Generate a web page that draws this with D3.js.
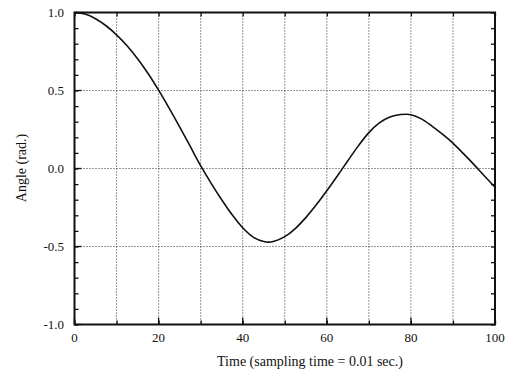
<!DOCTYPE html>
<html>
<head>
<meta charset="utf-8">
<script src="https://cdn.jsdelivr.net/npm/d3@7"></script>
<style>
  html, body { margin: 0; padding: 0; background: #fff; }
  svg { display: block; }
  text { font-family: "Liberation Serif", "Times New Roman", serif; fill: #111; }
</style>
</head>
<body>
<svg id="chart" width="512" height="376"></svg>
<script>
// Data
const timeSteps = [0, 2.5, 5, 7.5, 10, 12.5, 15, 17.5, 20, 22.5, 25, 27.5, 30, 32.5, 35, 37.5, 40, 42.5, 45, 46, 47.5, 50, 52.5, 55, 57.5, 60, 62.5, 65, 67.5, 70, 72.5, 75, 77.5, 79, 80, 82.5, 85, 87.5, 90, 92.5, 95, 97.5, 100];
const angleValues = [1.0, 0.99, 0.96, 0.915, 0.857, 0.787, 0.704, 0.609, 0.502, 0.387, 0.267, 0.143, 0.018, -0.095, -0.2, -0.297, -0.38, -0.44, -0.468, -0.472, -0.466, -0.437, -0.385, -0.315, -0.233, -0.143, -0.048, 0.05, 0.145, 0.23, 0.292, 0.33, 0.346, 0.348, 0.345, 0.318, 0.272, 0.22, 0.163, 0.095, 0.025, -0.048, -0.12];
const xTickLabels = [0, 20, 40, 60, 80, 100];
const yTickLabels = ["1.0", "0.5", "0.0", "-0.5", "-1.0"];
const yTickValues = [1.0, 0.5, 0.0, -0.5, -1.0];
const xGrid = [10, 20, 30, 40, 50, 60, 70, 80, 90];
const yGrid = [0.5, 0.0, -0.5];
const xTitle = "Time (sampling time = 0.01 sec.)";
const yTitle = "Angle (rad.)";

const svg = d3.select("#chart");
const L = 74.5, R = 495, T = 12.5, B = 324.5;
const x = d3.scaleLinear().domain([0, 100]).range([L, R]);
const y = d3.scaleLinear().domain([-1, 1]).range([B, T]);

// grid
const grid = svg.append("g").attr("stroke", "#333").attr("stroke-width", 1).attr("stroke-dasharray", "1,2");
grid.selectAll("line.vx").data(xGrid).join("line")
  .attr("x1", d => x(d)).attr("x2", d => x(d)).attr("y1", T).attr("y2", B);
grid.selectAll("line.hy").data(yGrid).join("line")
  .attr("x1", L).attr("x2", R).attr("y1", d => y(d)).attr("y2", d => y(d));

// axes with inward ticks
const yMinor = d3.range(-10, 11).map(d => d / 10);
const xMinor = d3.range(0, 101, 10);
const axL = svg.append("g").attr("transform", `translate(${L},0)`)
  .call(d3.axisRight(y).tickValues(yMinor).tickSize(4).tickFormat(""));
const axR = svg.append("g").attr("transform", `translate(${R},0)`)
  .call(d3.axisLeft(y).tickValues(yMinor).tickSize(4).tickFormat(""));
const axB = svg.append("g").attr("transform", `translate(0,${B})`)
  .call(d3.axisTop(x).tickValues(xMinor).tickSize(4).tickFormat(""));
const axT = svg.append("g").attr("transform", `translate(0,${T})`)
  .call(d3.axisBottom(x).tickValues(xMinor).tickSize(4).tickFormat(""));
[axL, axR, axB, axT].forEach(g => {
  g.select(".domain").remove();
  g.selectAll(".tick line").attr("stroke", "#111").attr("stroke-width", 1.3);
});
// major tick marks slightly longer
svg.append("g").selectAll("line").data(xTickLabels).join("line")
  .attr("x1", d => x(d)).attr("x2", d => x(d)).attr("y1", B).attr("y2", B - 7)
  .attr("stroke", "#111").attr("stroke-width", 1.3);
svg.append("g").selectAll("line").data(yTickValues).join("line")
  .attr("x1", L).attr("x2", L + 7).attr("y1", d => y(d)).attr("y2", d => y(d))
  .attr("stroke", "#111").attr("stroke-width", 1.3);

// frame
svg.append("rect").attr("x", L).attr("y", T).attr("width", R - L).attr("height", B - T)
  .attr("fill", "none").attr("stroke", "#111").attr("stroke-width", 2);

// tick labels
svg.append("g").selectAll("text").data(yTickValues).join("text")
  .attr("x", 64).attr("y", d => y(d) + 4.5).attr("text-anchor", "end")
  .attr("font-size", 13).text((d, i) => yTickLabels[i]);
svg.append("g").selectAll("text").data(xTickLabels).join("text")
  .attr("x", d => x(d)).attr("y", 342).attr("text-anchor", "middle")
  .attr("font-size", 13).text(d => d);

// titles
svg.append("text").attr("x", 310).attr("y", 366).attr("text-anchor", "middle")
  .attr("font-size", 14).text(xTitle);
svg.append("text").attr("transform", "translate(26,168) rotate(-90)")
  .attr("text-anchor", "middle").attr("font-size", 14).text(yTitle);

// curve
const line = d3.line().x((d, i) => x(timeSteps[i])).y(d => y(d)).curve(d3.curveMonotoneX);
svg.append("path").datum(angleValues).attr("d", line)
  .attr("fill", "none").attr("stroke", "#111").attr("stroke-width", 1.6);
</script>
</body>
</html>
